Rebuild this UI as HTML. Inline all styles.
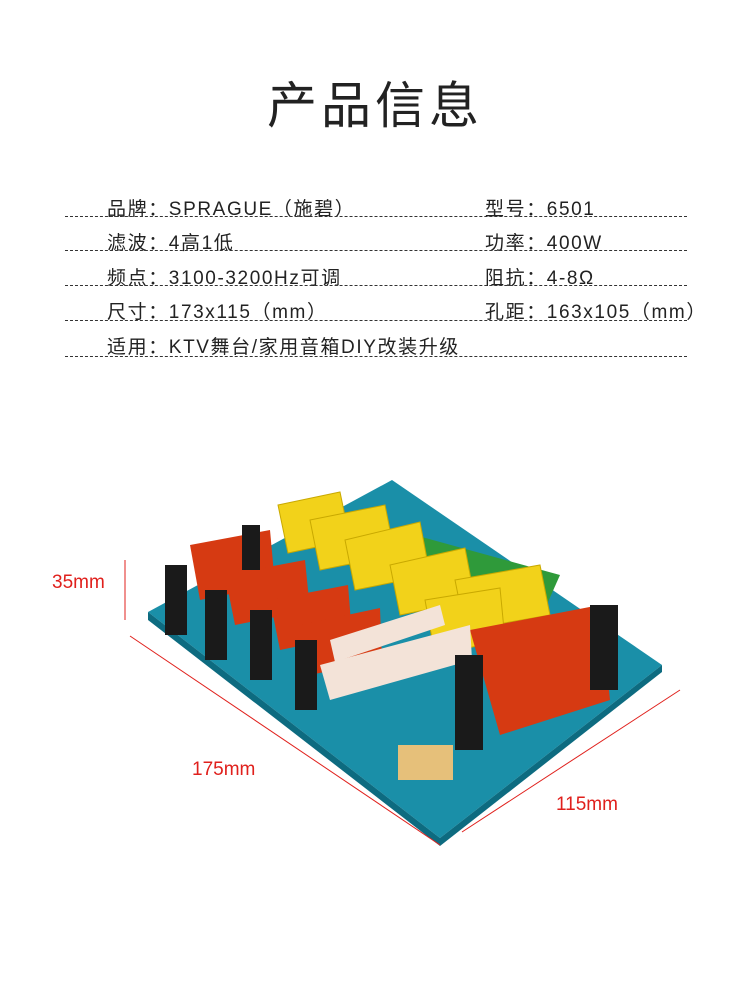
<!DOCTYPE html>
<html><head><meta charset="utf-8"><style>
body{margin:0;width:750px;height:1004px;background:#fff;position:relative;overflow:hidden;font-family:"Liberation Sans","Noto Sans CJK SC",sans-serif;color:#222}
.t{position:absolute;top:66px;left:0;width:750px;text-align:center;font-size:50px;letter-spacing:4px;font-weight:400}
.r{position:absolute;font-size:19px;letter-spacing:1.6px;white-space:nowrap}
.l{position:absolute;left:65px;width:622px;border-top:1.5px dashed #333}
.d{position:absolute;color:#e0201c;font-size:19px}
</style></head><body>
<div class="t">产品信息</div>
<div class="r" style="left:107px;top:194px">品牌：SPRAGUE（施碧）</div>
<div class="r" style="left:485px;top:194px">型号：6501</div>
<div class="l" style="top:216px"></div>
<div class="r" style="left:107px;top:228px">滤波：4高1低</div>
<div class="r" style="left:485px;top:228px">功率：400W</div>
<div class="l" style="top:250px"></div>
<div class="r" style="left:107px;top:263px">频点：3100-3200Hz可调</div>
<div class="r" style="left:485px;top:263px">阻抗：4-8Ω</div>
<div class="l" style="top:285px"></div>
<div class="r" style="left:107px;top:297px">尺寸：173x115（mm）</div>
<div class="r" style="left:485px;top:297px">孔距：163x105（mm）</div>
<div class="l" style="top:320px"></div>
<div class="r" style="left:107px;top:332px">适用：KTV舞台/家用音箱DIY改装升级</div>
<div class="l" style="top:356px"></div>
<svg style="position:absolute;left:0;top:0" width="750" height="1004">
<polygon points="148,612 392,480 662,665 440,838" fill="#1a8fa8"/>
<polygon points="148,612 440,838 440,846 148,620" fill="#0d6b80"/>
<polygon points="440,838 662,665 662,672 440,846" fill="#0d6b80"/>
<g fill="#2f9a3a"><polygon points="360,520 560,575 540,620 330,560"/></g>
<g fill="#f2d21a" stroke="#c9a900">
<polygon points="278,505 340,492 350,540 288,553"/>
<polygon points="310,520 385,505 395,555 320,570"/>
<polygon points="345,540 420,522 430,575 355,590"/>
<polygon points="390,565 465,548 475,600 400,615"/>
<polygon points="455,580 540,565 550,615 465,630"/>
<polygon points="425,600 500,588 505,640 435,655"/>
</g>
<g fill="#d63a12">
<polygon points="190,545 270,530 275,585 200,600"/>
<polygon points="225,575 305,560 310,610 235,625"/>
<polygon points="270,600 348,585 352,635 280,650"/>
<polygon points="300,625 380,608 382,660 310,675"/>
<polygon points="470,630 600,605 610,700 500,735"/>
</g>
<g fill="#f3e3d8"><polygon points="330,640 440,605 445,625 335,662"/><polygon points="320,665 470,625 472,660 330,700"/></g>
<g fill="#1a1a1a">
<rect x="165" y="565" width="22" height="70"/><rect x="205" y="590" width="22" height="70"/>
<rect x="250" y="610" width="22" height="70"/><rect x="295" y="640" width="22" height="70"/>
<rect x="455" y="655" width="28" height="95"/><rect x="590" y="605" width="28" height="85"/>
<rect x="242" y="525" width="18" height="45"/>
</g>
<rect x="398" y="745" width="55" height="35" fill="#e6c07a"/>
<g stroke="#e0201c" stroke-width="1" fill="none">
<line x1="130" y1="636" x2="440" y2="845"/><line x1="462" y1="832" x2="680" y2="690"/>
<line x1="125" y1="560" x2="125" y2="620"/>
</g>
</svg>
<div class="d" style="left:52px;top:572px">35mm</div>
<div class="d" style="left:192px;top:759px">175mm</div>
<div class="d" style="left:556px;top:794px">115mm</div>
</body></html>
